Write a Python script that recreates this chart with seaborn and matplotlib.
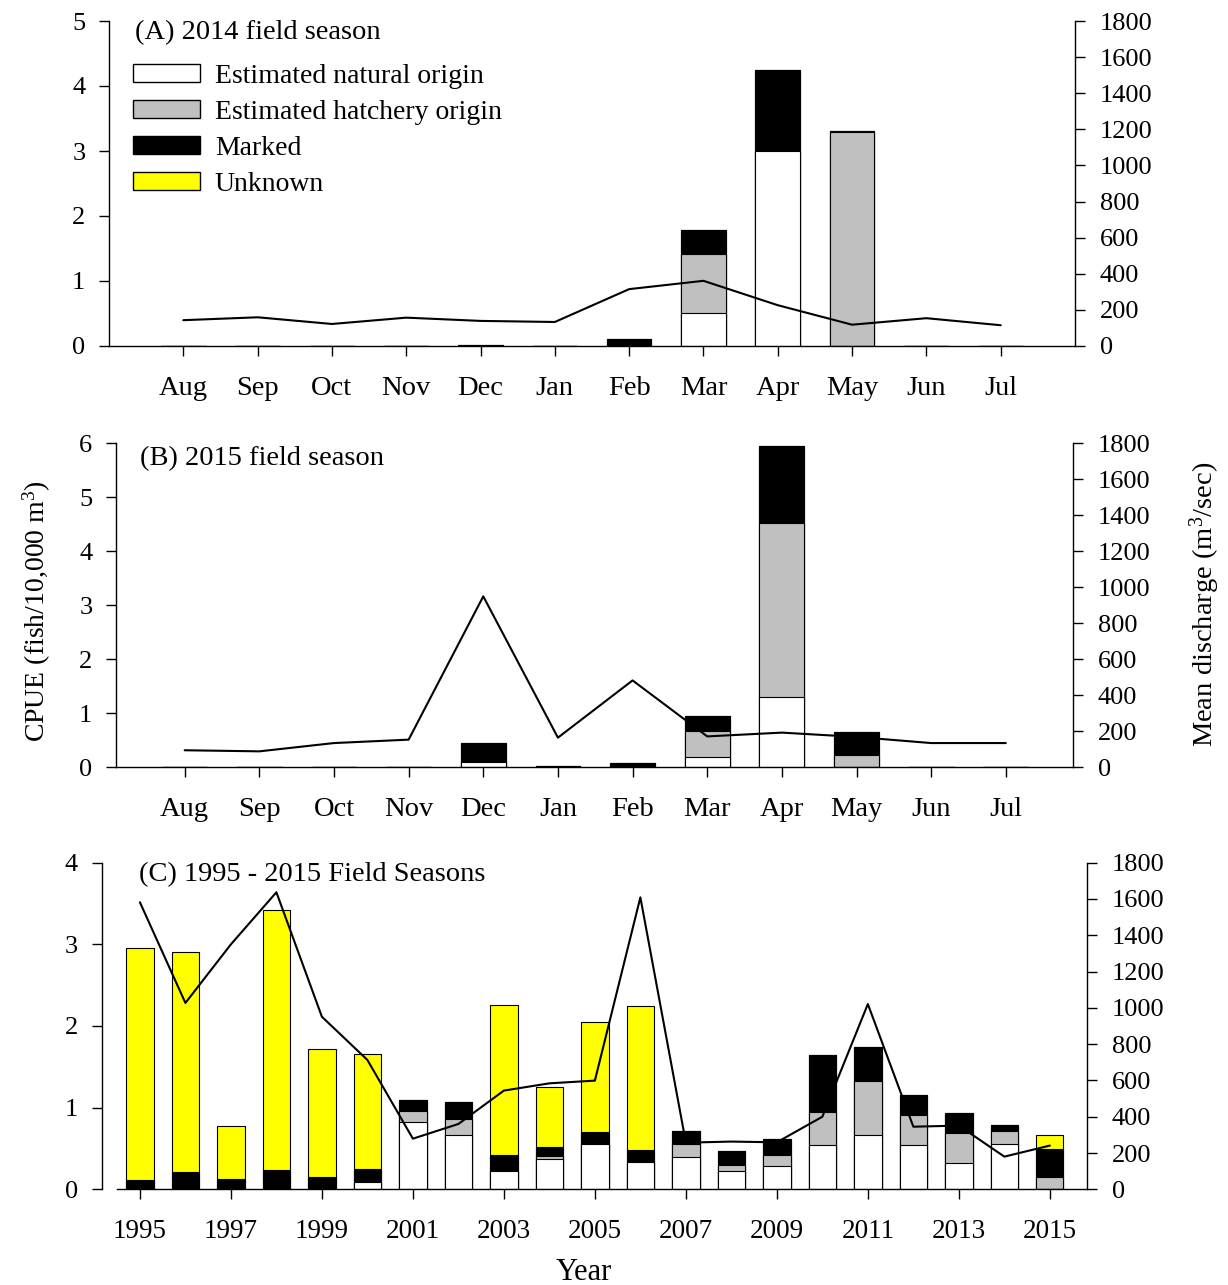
import numpy as np
import pandas as pd
import matplotlib
matplotlib.use("Agg")
import matplotlib.pyplot as plt
import seaborn as sns
from matplotlib.patches import Patch

# ---------------- data ----------------
months = ['Aug', 'Sep', 'Oct', 'Nov', 'Dec', 'Jan', 'Feb', 'Mar', 'Apr', 'May', 'Jun', 'Jul']

# (A) 2014 field season - CPUE components (fish/10,000 m3)
a_natural = [0, 0, 0, 0, 0, 0, 0, 0.51, 3.00, 0, 0, 0]
a_hatchery = [0, 0, 0, 0, 0, 0, 0, 0.90, 0, 3.29, 0, 0]
a_marked = [0, 0, 0, 0, 0.02, 0, 0.10, 0.38, 1.24, 0.02, 0, 0]
a_unknown = [0] * 12
a_discharge = [143, 159, 122, 157, 139, 133, 315, 361, 226, 118, 154, 115]

# (B) 2015 field season
b_natural = [0, 0, 0, 0, 0.09, 0, 0, 0.19, 1.30, 0, 0, 0]
b_hatchery = [0, 0, 0, 0, 0, 0, 0, 0.47, 3.22, 0.22, 0, 0]
b_marked = [0, 0, 0, 0, 0.35, 0.02, 0.07, 0.28, 1.43, 0.43, 0, 0]
b_unknown = [0] * 12
b_discharge = [93, 87, 133, 152, 948, 163, 481, 170, 191, 167, 133, 133]

# (C) 1995 - 2015 field seasons
years = list(range(1995, 2016))
c_natural = [0, 0, 0, 0, 0, 0.09, 0.82, 0.67, 0.23, 0.37, 0.55, 0.33, 0.39, 0.23, 0.29,
             0.54, 0.67, 0.54, 0.32, 0.56, 0]
c_hatchery = [0, 0, 0, 0, 0, 0, 0.14, 0.19, 0, 0.04, 0, 0, 0.17, 0.07, 0.13,
              0.41, 0.66, 0.37, 0.37, 0.15, 0.15]
c_marked = [0.12, 0.21, 0.13, 0.24, 0.15, 0.16, 0.13, 0.21, 0.19, 0.11, 0.15, 0.15, 0.15, 0.17, 0.20,
            0.69, 0.41, 0.25, 0.24, 0.08, 0.34]
c_unknown = [2.84, 2.70, 0.65, 3.18, 1.57, 1.41, 0, 0, 1.84, 0.73, 1.35, 1.76, 0, 0, 0,
             0, 0, 0, 0, 0, 0.18]
c_discharge = [1582, 1027, 1350, 1637, 951, 713, 279, 360, 544, 584, 599, 1609, 257, 263, 259,
               400, 1021, 345, 351, 180, 241]

legend_labels = ['Estimated natural origin', 'Estimated hatchery origin', 'Marked', 'Unknown']
colors = ['#FFFFFF', '#C0C0C0', '#000000', '#FFFF00']

# ---------------- style ----------------
sns.set_style("ticks")
plt.rcParams['font.family'] = ['Liberation Serif', 'DejaVu Serif']
plt.rcParams['mathtext.fontset'] = 'custom'
plt.rcParams['mathtext.rm'] = 'Liberation Serif'
plt.rcParams['mathtext.it'] = 'Liberation Serif:italic'
plt.rcParams['axes.linewidth'] = 1.0
for k in ['axes.edgecolor', 'xtick.color', 'ytick.color', 'text.color', 'axes.labelcolor']:
    plt.rcParams[k] = 'black'

FS_NUM = 19
FS_TXT = 20.5
W, H = 1228, 1285
fig = plt.figure(figsize=(W / 100, H / 100), dpi=100)


def rect(l, t, r, b):
    return [l / W, 1 - b / H, (r - l) / W, (b - t) / H]


def stacked(ax, cats, natural, hatchery, marked, unknown):
    n = np.array(natural)
    h = n + np.array(hatchery)
    m = h + np.array(marked)
    u = m + np.array(unknown)
    df = pd.DataFrame({'cat': cats, 'nat': n, 'hat': h, 'mar': m, 'unk': u})
    for col, c in zip(['unk', 'mar', 'hat', 'nat'], colors[::-1]):
        sns.barplot(data=df, x='cat', y=col, order=cats, color=c, saturation=1,
                    width=0.6, edgecolor='black', linewidth=0.8, errorbar=None, ax=ax)


def style(ax, ax2, ylim, yticks, xlim, xticks, xticklabels, xfs):
    ax.set_xlim(*xlim)
    ax.set_ylim(*ylim)
    ax.set_yticks(yticks)
    ax.set_xticks(xticks)
    ax.set_xticklabels(xticklabels)
    ax.set_xlabel('')
    ax.set_ylabel('')
    ax2.set_ylim(0, 1800)
    ax2.set_yticks(np.arange(0, 1801, 200))
    ax2.set_ylabel('')
    ax2.set_xlabel('')
    for s in ['top', 'right']:
        ax.spines[s].set_visible(False)
    for s in ['top', 'left', 'bottom']:
        ax2.spines[s].set_visible(False)
    ax.tick_params(axis='x', direction='out', length=7, width=1, pad=14.5, labelsize=xfs)
    ax.tick_params(axis='y', direction='out', length=7, width=1, pad=10, labelsize=FS_NUM)
    ax2.tick_params(axis='y', direction='out', length=7, width=1, pad=11, labelsize=FS_NUM)


def discharge_line(ax2, vals):
    sns.lineplot(x=np.arange(len(vals)), y=vals, color='black', linewidth=1.5, ax=ax2)


# ----- Panel A -----
axA = fig.add_axes(rect(109, 21, 1075, 346))
stacked(axA, months, a_natural, a_hatchery, a_marked, a_unknown)
axA2 = axA.twinx()
discharge_line(axA2, a_discharge)
style(axA, axA2, (0, 5), range(0, 6), (-1.0, 12.0), range(12), months, FS_TXT)
axA.text(0.027, 0.964, '(A) 2014 field season', transform=axA.transAxes,
         fontsize=FS_TXT, va='center', ha='left')
handles = [Patch(facecolor=c, edgecolor='black', linewidth=1.0) for c in colors]
axA.legend(handles, legend_labels, loc='upper left', bbox_to_anchor=(0.0248, 0.868),
           frameon=False, fontsize=20, handlelength=2.4, handleheight=0.62,
           handletextpad=0.55, labelspacing=0.4, borderpad=0, borderaxespad=0)

# ----- Panel B -----
axB = fig.add_axes(rect(116, 443, 1073, 767))
stacked(axB, months, b_natural, b_hatchery, b_marked, b_unknown)
axB2 = axB.twinx()
discharge_line(axB2, b_discharge)
style(axB, axB2, (0, 6), range(0, 7), (-0.92, 11.9), range(12), months, FS_TXT)
axB.text(0.025, 0.952, '(B) 2015 field season', transform=axB.transAxes,
         fontsize=FS_TXT, va='center', ha='left')

# ----- Panel C -----
axC = fig.add_axes(rect(116.7, 862.7, 1086.7, 1189.3))
ycats = [str(y) for y in years]
stacked(axC, ycats, c_natural, c_hatchery, c_marked, c_unknown)
axC2 = axC.twinx()
discharge_line(axC2, c_discharge)
style(axC, axC2, (0, 4), range(0, 5), (-0.51, 20.81), range(0, 21, 2), ycats[::2], FS_NUM + 0.5)
axC.spines['left'].set_position(('outward', 10.8))
axC.text(0.023, 0.963, '(C) 1995 - 2015 Field Seasons', transform=axC.transAxes,
         fontsize=FS_TXT, va='center', ha='left')

# axis titles
fig.text(37 / W, 1 - 611 / H, 'CPUE (fish/10,000 m$^3$)', rotation=90,
         ha='center', va='center', fontsize=20)
fig.text(1205 / W, 1 - 604 / H, 'Mean discharge (m$^3$/sec)', rotation=90,
         ha='center', va='center', fontsize=20.5)
fig.text(584 / W, 1 - 1272 / H, 'Year', ha='center', va='center', fontsize=22)

fig.savefig('out.png', dpi=100)
